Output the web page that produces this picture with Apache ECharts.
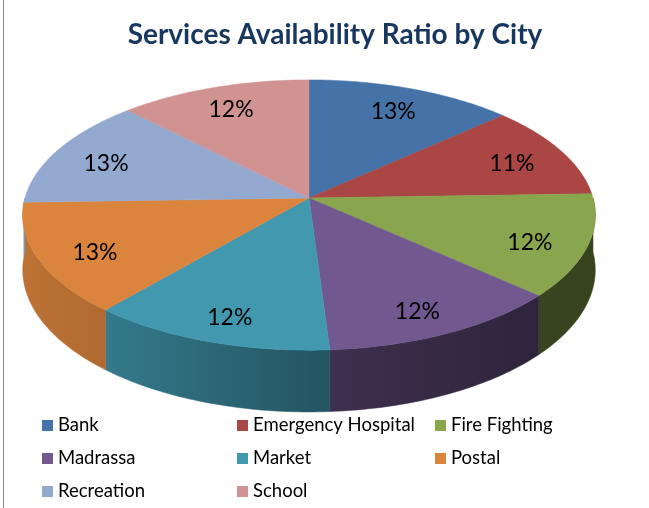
<!DOCTYPE html>
<html>
<head>
<meta charset="utf-8">
<title>Services Availability Ratio by City</title>
<script src="https://cdn.jsdelivr.net/npm/echarts@6/dist/echarts.min.js"></script>
<style>
  html, body { margin: 0; padding: 0; background: #fff; }
  #chart { width: 649px; height: 508px; }
</style>
</head>
<body>
<div id="chart"></div>
<script>
// 数据
const categories = ['Bank', 'Emergency Hospital', 'Fire Fighting', 'Madrassa', 'Market', 'Postal', 'Recreation', 'School'];
const shares = [13, 11, 12, 12, 12, 13, 13, 12];
const colors = ['#4572a7', '#aa4643', '#89a54e', '#71588f', '#4198af', '#db843d', '#93a9cf', '#d19392'];
const legendColumns = [
  ['Bank', 'Madrassa', 'Recreation'],
  ['Emergency Hospital', 'Market', 'School'],
  ['Fire Fighting', 'Postal']
];

// 3D 饼图的几何参数 (透视椭圆)
const cx = 309, cy = 198, rx = 284, ry = 133, dist = 7.94, depth = 54;
const total = shares.reduce((a, b) => a + b, 0);
const starts = [];
shares.reduce((acc, v) => { starts.push(acc); return acc + v; }, 0);

function toAngle(v) {
  return v / total * 360;
}

function project(deg, f) {
  const a = deg * Math.PI / 180;
  const u = Math.sin(a) * f;
  const v = -Math.cos(a) * f;
  const s = dist / (dist - v);
  return [cx + rx * u * s, cy + ry * v * s, s];
}

// 侧面明暗, 左亮右暗
const shadeStops = [[0, 0.88], [108, 0.8], [330, 0.55], [536, 0.41], [649, 0.39]];
function shadeAt(x) {
  for (let i = 1; i < shadeStops.length; i++) {
    const [x1, s1] = shadeStops[i];
    const [x0, s0] = shadeStops[i - 1];
    if (x <= x1) return s0 + (s1 - s0) * (x - x0) / (x1 - x0);
  }
  return shadeStops[shadeStops.length - 1][1];
}

function darken(hex, k) {
  const n = parseInt(hex.slice(1), 16);
  const r = Math.round(((n >> 16) & 255) * k);
  const g = Math.round(((n >> 8) & 255) * k);
  const b = Math.round((n & 255) * k);
  return `rgb(${r},${g},${b})`;
}

function arcPoints(a0, a1, f) {
  const pts = [];
  const steps = Math.max(2, Math.ceil(a1 - a0));
  for (let i = 0; i <= steps; i++) {
    pts.push(project(a0 + (a1 - a0) * i / steps, f));
  }
  return pts;
}

function renderSlice(idx) {
  return function (params, api) {
    const a0 = toAngle(starts[idx]);
    const a1 = toAngle(starts[idx] + api.value(0));
    const color = colors[idx];
    const children = [];

    // 侧面, 只画朝向观察者的部分 (90° ~ 270°)
    const lo = Math.max(a0, 90), hi = Math.min(a1, 270);
    if (hi > lo) {
      const top = arcPoints(lo, hi, 1);
      const bottom = top.map(p => [p[0], p[1] + depth * p[2]]).reverse();
      const pts = top.map(p => [p[0], p[1]]).concat(bottom);
      const xs = pts.map(p => p[0]);
      const xMin = Math.min(...xs), xMax = Math.max(...xs);
      const fill = {
        type: 'linear', x: xMin, y: 0, x2: xMax, y2: 0, global: true,
        colorStops: [
          { offset: 0, color: darken(color, shadeAt(xMin)) },
          { offset: 1, color: darken(color, shadeAt(xMax)) }
        ]
      };
      children.push({
        type: 'polygon', z2: 1,
        shape: { points: pts },
        style: { fill: fill, stroke: fill, lineWidth: 0.5 }
      });
    }

    // 顶面
    const topPts = [[cx, cy]].concat(arcPoints(a0, a1, 1).map(p => [p[0], p[1]]));
    children.push({
      type: 'polygon', z2: 5,
      shape: { points: topPts },
      style: { fill: color, stroke: color, lineWidth: 0.5 }
    });

    // 百分比标签, 前面的略往下
    const mid = (a0 + a1) / 2;
    const lp = project(mid, 0.8);
    const lift = 5 - 3 * Math.cos(mid * Math.PI / 180);
    children.push({
      type: 'text', z2: 10,
      x: lp[0], y: lp[1] + lift,
      style: {
        text: Math.round(api.value(0) / total * 100) + '%',
        fill: '#000',
        fontSize: 23,
        fontFamily: 'Lato',
        textAlign: 'center',
        textVerticalAlign: 'middle',
        align: 'center',
        verticalAlign: 'middle'
      }
    });
    return { type: 'group', children: children };
  };
}

const legendLefts = [42, 237, 435];

const option = {
  animation: false,
  color: colors,
  title: {
    text: 'Services Availability Ratio by City',
    left: 330,
    textAlign: 'center',
    top: 16,
    textStyle: { color: '#17375e', fontSize: 28, fontWeight: 'bold', fontFamily: 'Lato' }
  },
  legend: legendColumns.map((col, i) => ({
    data: col,
    orient: 'vertical',
    left: legendLefts[i],
    top: 416,
    padding: 0,
    itemWidth: 11,
    itemHeight: 11,
    itemGap: 14,
    icon: 'rect',
    selectedMode: false,
    textStyle: { fontSize: 18.5, fontFamily: 'Lato', color: '#000' }
  })),
  graphic: [{
    type: 'line',
    shape: { x1: 3.5, y1: 0, x2: 3.5, y2: 508 },
    style: { stroke: '#8c8c8c', lineWidth: 1 }
  }],
  series: categories.map((name, i) => ({
    type: 'custom',
    name: name,
    coordinateSystem: 'none',
    itemStyle: { color: colors[i] },
    renderItem: renderSlice(i),
    data: [[shares[i]]]
  }))
};

const chart = echarts.init(document.getElementById('chart'));
chart.setOption(option);
</script>
</body>
</html>
